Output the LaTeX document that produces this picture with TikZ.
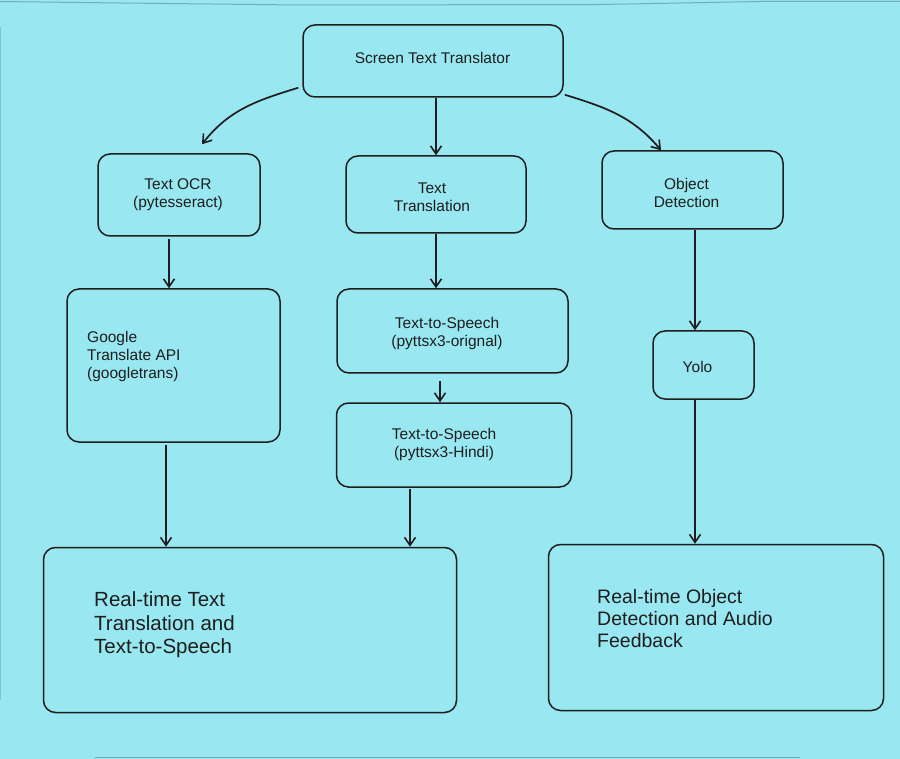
\documentclass[tikz,border=0pt]{standalone}
\usepackage{fontspec}
\setmainfont{Liberation Sans}
\usetikzlibrary{arrows.meta}
\definecolor{bg}{HTML}{98E7F1}
\definecolor{ink}{HTML}{1E1E1E}
\definecolor{frame}{HTML}{6FAFB8}
\begin{document}
\begin{tikzpicture}[x=1pt,y=-1pt,
  box/.style={draw=ink,line width=1.5pt,rounded corners=12pt,fill=bg,inner sep=0pt},
  small/.style={text=ink,font=\fontsize{15.5}{18}\selectfont,align=center,inner sep=0pt},
  smallleft/.style={text=ink,font=\fontsize{15.5}{18}\selectfont,align=left,inner sep=0pt},
  big/.style={text=ink,font=\fontsize{20.5}{23.5}\selectfont,align=left,inner sep=0pt},
  bigr/.style={text=ink,font=\fontsize{19.5}{22}\selectfont,align=left,inner sep=0pt},
  arr/.style={draw=ink,line width=1.7pt,-{Straight Barb[length=8pt,width=11pt,line width=1.6pt]}}]
\fill[bg] (0,0) rectangle (900,759);
\useasboundingbox (0,0) rectangle (900,759);
% faint frame of the screenshot
\draw[frame,line width=1pt] (0,1.5) -- (120,3) -- (300,5) -- (600,4.5) -- (760,1.5) -- (900,1.5);
\draw[frame,line width=1pt] (95,757.5) -- (800,757.5);
\draw[frame,line width=0.8pt,opacity=0.6] (0.6,27) -- (0.6,700);
% boxes
\node[box,minimum width=260pt,minimum height=72pt] (stt) at (433,61) {};
\node[box,minimum width=162pt,minimum height=82pt] (ocr) at (179,195) {};
\node[box,minimum width=180pt,minimum height=77pt] (tt) at (436,194.5) {};
\node[box,minimum width=181pt,minimum height=78pt] (od) at (692.5,190) {};
\node[box,minimum width=213pt,minimum height=153pt] (gt) at (173.5,365.5) {};
\node[box,minimum width=231pt,minimum height=84pt] (tso) at (452.5,331) {};
\node[box,minimum width=235pt,minimum height=84pt] (tsh) at (454,445) {};
\node[box,minimum width=101pt,minimum height=68pt] (yolo) at (703.5,365) {};
\node[box,minimum width=413pt,minimum height=165pt] (rl) at (250,630) {};
\node[box,minimum width=335pt,minimum height=166pt] (rr) at (716,627.5) {};
% texts
\node[small] (sttT) at (432.5,58) {Screen Text Translator};
\node[small] (ocrT) at (178,195) {Text OCR\\(pytesseract)};
\node[small] (ttT) at (432,197) {Text\\Translation};
\node[small] (odT) at (686.5,192.5) {Object\\Detection};
\node[small] (yoloT) at (697.5,367) {Yolo};
\node[smallleft,anchor=west] (gtT) at (87,356) {Google\\Translate API\\(googletrans)};
\node[small] (tsoT) at (447,333) {Text-to-Speech\\(pyttsx3-orignal)};
\node[small] (tshT) at (444,444) {Text-to-Speech\\(pyttsx3-Hindi)};
\node[big,anchor=west] (rlT) at (94,625) {Real-time Text\\Translation and\\Text-to-Speech};
\node[bigr,anchor=west] (rrT) at (597,619) {Real-time Object\\Detection and Audio\\Feedback};
% connectors
\draw[arr] ([xshift=-4pt,yshift=10pt]stt.south west) to[out=197,in=52] ([xshift=23pt,yshift=9pt]ocr.north);
\draw[arr] (tt.north |- stt.south) -- (tt.north);
\draw[arr] ([xshift=1pt,yshift=3pt]stt.south east) to[out=-17,in=130] ([xshift=-31.5pt]od.north);
\draw[arr] ([xshift=-10pt,yshift=-2pt]ocr.south) -- ([xshift=-4.5pt]gt.north);
\draw[arr] (tt.south) -- (tt.south |- tso.north);
\draw[arr] ([xshift=-12.5pt,yshift=-7pt]tso.south) -- ([xshift=-12.5pt]tso.south |- tsh.north);
\draw[arr] ([xshift=-7.5pt,yshift=-2pt]gt.south) -- ([xshift=-7.5pt]gt.south |- rl.north);
\draw[arr] ([xshift=-44pt,yshift=-1pt]tsh.south) -- ([xshift=-44pt]tsh.south |- rl.north);
\draw[arr] ([xshift=-8.5pt]yolo.north |- od.south) -- ([xshift=-8.5pt]yolo.north);
\draw[arr] ([xshift=-8.5pt]yolo.south) -- ([xshift=-8.5pt]yolo.south |- rr.north);
\end{tikzpicture}
\end{document}
